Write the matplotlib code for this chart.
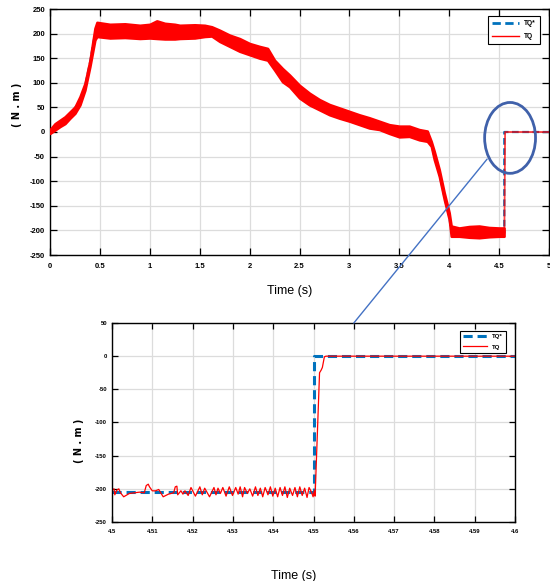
import matplotlib
matplotlib.use("Agg")
import matplotlib.pyplot as plt
from matplotlib.patches import Ellipse, ConnectionPatch

plt.rcParams["axes.unicode_minus"] = False

# full run: band of the measured torque (upper / lower edge of the ripple)
run_t = [0.00, 0.05, 0.10, 0.15, 0.20, 0.25, 0.30, 0.35, 0.40, 0.45,
         0.47, 0.60, 0.75, 0.90, 1.00, 1.07, 1.15, 1.25, 1.30, 1.45,
         1.55, 1.62, 1.70, 1.80, 1.90, 2.00, 2.10, 2.18, 2.25,
         2.33, 2.40, 2.50, 2.60, 2.70, 2.80, 2.90, 3.00, 3.10, 3.20,
         3.30, 3.40, 3.50, 3.60, 3.70, 3.78, 3.82, 3.85, 3.90, 3.95,
         4.00, 4.02, 4.10, 4.20, 4.30, 4.40, 4.50, 4.55]
run_hi = [5, 17, 24, 31, 41, 51, 72, 99, 146, 211,
          223, 219, 220, 217, 219, 226, 221, 219, 217, 218,
          217, 214, 207, 197, 190, 180, 174, 170, 146,
          129, 116, 95, 79, 66, 56, 49, 42, 35, 29,
          22, 15, 12, 12, 5, 2, -19, -39, -76, -123,
          -164, -191, -195, -192, -191, -194, -195, -195]
run_lo = [-3, 4, 11, 17, 28, 38, 55, 85, 133, 187,
          194, 191, 192, 190, 191, 190, 189, 189, 190, 191,
          194, 195, 184, 174, 164, 157, 150, 146, 126,
          102, 92, 69, 55, 45, 35, 28, 22, 15, 8,
          5, -3, -10, -9, -16, -19, -29, -56, -90, -137,
          -178, -212, -212, -214, -215, -213, -212, -212]
# torque after the load is removed
tail_t = [4.553, 4.56, 5.0]
tail_tq = [-205, 0, 0]
# reference torque TQ*
ref_t = [0.0, 0.10, 0.20, 0.30, 0.35, 0.40, 0.45, 0.47, 1.6, 2.18, 2.5, 3.0,
         3.5, 3.78, 3.82, 3.85, 3.90, 3.95, 4.00, 4.02, 4.552, 4.552, 5.0]
ref_tq = [0, 17, 35, 63, 92, 140, 199, 206, 204, 156, 82, 32,
          1, -9, -24, -48, -83, -130, -171, -202, -205, 0, 0]

# zoom on the step at 4.55 s
zoom_t = [4.5000, 4.5005, 4.5007, 4.5012, 4.5017, 4.5021, 4.5029, 4.5043, 4.5068, 4.5080,
          4.5085, 4.5090, 4.5093, 4.5100, 4.5108, 4.5116, 4.5127, 4.5140, 4.5153, 4.5157,
          4.5161, 4.5163, 4.5171, 4.5176, 4.5181, 4.5189,
          4.5196, 4.5207, 4.5218, 4.5224, 4.5230, 4.5242, 4.5253, 4.5258, 4.5263, 4.5269,
          4.5275, 4.5283, 4.5291, 4.5299, 4.5307, 4.5313, 4.5318, 4.5324, 4.5329, 4.5336,
          4.5342, 4.5349, 4.5356, 4.5362, 4.5368, 4.5374, 4.5380, 4.5387, 4.5393, 4.5399,
          4.5405, 4.5411, 4.5417, 4.5423, 4.5429, 4.5435, 4.5441, 4.5448, 4.5454, 4.5460,
          4.5466, 4.5472, 4.5478, 4.5484, 4.5489, 4.5495, 4.5499, 4.5502, 4.5504, 4.5515,
          4.5519, 4.5522, 4.5527, 4.5531, 4.6000]
zoom_tq = [-202, -200, -209, -202, -200, -206, -212, -207, -205, -206,
           -195, -193, -197, -203, -203, -201, -212, -208, -206, -197,
           -196, -209, -203, -208, -203, -210,
           -198, -211, -197, -209, -199, -212, -198, -209, -199, -207,
           -198, -211, -197, -210, -198, -208, -197, -212, -198, -207,
           -200, -211, -197, -210, -199, -212, -198, -209, -197, -211,
           -199, -212, -198, -210, -197, -213, -199, -210, -198, -212,
           -197, -210, -199, -213, -198, -205, -212, -203, -211, -25,
           -21, -17, -1, 0, 0]
zoom_ref_t = [4.5, 4.5501, 4.5501, 4.6]
zoom_ref_tq = [-205, -205, 0, 0]

BLUE = "#0072BD"
narrow = ["Liberation Sans Narrow", "Liberation Sans", "DejaVu Sans"]


def style_axes(ax, tick_size, tick_len):
    ax.grid(True, color="#dcdcdc", linewidth=0.9)
    ax.set_axisbelow(True)
    ax.tick_params(direction="in", top=True, right=True, length=tick_len,
                   width=0.9, labelsize=tick_size)
    for lab in ax.get_xticklabels() + ax.get_yticklabels():
        lab.set_family(narrow)
        lab.set_fontweight("bold")
    for sp in ax.spines.values():
        sp.set_linewidth(1.0)


fig = plt.figure(figsize=(5.5, 5.81), dpi=100)

# ---- top: whole run
ax1 = fig.add_axes([50 / 550, 1 - 255 / 581, 499 / 550, 246 / 581])
ax1.plot(ref_t, ref_tq, color=BLUE, lw=1.6, ls=(0, (3, 1.6)), label="TQ*", zorder=2)
ax1.fill_between(run_t, run_lo, run_hi, color="red", lw=1.8, edgecolor="red", zorder=3)
ax1.plot(tail_t, tail_tq, color="red", lw=1.3, alpha=0.75, zorder=3)
ax1.plot([], [], color="red", lw=1.0, label="TQ")
ax1.set_xlim(0, 5)
ax1.set_ylim(-250, 250)
ax1.set_xticks([0, 0.5, 1, 1.5, 2, 2.5, 3, 3.5, 4, 4.5, 5])
ax1.set_xticklabels(["0", "0.5", "1", "1.5", "2", "2.5", "3", "3.5", "4", "4.5", "5"])
ax1.set_yticks(range(-250, 251, 50))
style_axes(ax1, 5.5, 5)
ax1.tick_params(axis="x", pad=6)
ax1.set_xlabel("Time (s)", family=narrow, fontsize=9)
ax1.xaxis.set_label_coords(0.48, -0.12)
ax1.set_ylabel("( N . m )", fontsize=7, fontweight="bold")
ax1.yaxis.set_label_coords(-0.056, 0.61)
leg1 = ax1.legend(loc="upper right", bbox_to_anchor=(0.988, 0.984),
                  prop={"family": narrow, "weight": "bold", "size": 4.8},
                  fancybox=False, framealpha=1, edgecolor="black",
                  handlelength=4, borderpad=0.6, labelspacing=0.9)
leg1.get_frame().set_linewidth(0.8)
leg1.get_lines()[0].set_linewidth(2.0)

# circle around the step
ax1.add_patch(Ellipse((4.61, -12), 0.51, 144, fill=False, edgecolor="#4061aa",
                      lw=2.0, zorder=5, clip_on=False))

# ---- bottom: zoom on the step
ax2 = fig.add_axes([112 / 550, 1 - 522 / 581, 403 / 550, 199 / 581])
ax2.plot(zoom_ref_t, zoom_ref_tq, color=BLUE, lw=2.2, ls=(0, (3, 1.6)), label="TQ*")
ax2.plot(zoom_t, zoom_tq, color="red", lw=0.9, label="TQ")
ax2.set_xlim(4.5, 4.6)
ax2.set_ylim(-250, 50)
ax2.set_xticks([4.5 + 0.01 * i for i in range(11)])
ax2.set_xticklabels(["4.5", "4.51", "4.52", "4.53", "4.54", "4.55",
                     "4.56", "4.57", "4.58", "4.59", "4.6"])
ax2.set_yticks(range(-250, 51, 50))
style_axes(ax2, 4.2, 4)
ax2.tick_params(axis="x", pad=5)
ax2.set_xlabel("Time (s)", family=narrow, fontsize=9)
ax2.xaxis.set_label_coords(0.45, -0.24)
ax2.set_ylabel("( N . m )", fontsize=7, fontweight="bold")
ax2.yaxis.set_label_coords(-0.07, 0.41)
leg2 = ax2.legend(loc="upper right", bbox_to_anchor=(0.985, 0.975),
                  prop={"family": narrow, "weight": "bold", "size": 4.4},
                  fancybox=False, framealpha=1, edgecolor="black",
                  handlelength=4, borderpad=0.5, labelspacing=0.8)
leg2.get_frame().set_linewidth(0.8)

# pointer from the circle down to the zoomed axes
con = ConnectionPatch(xyA=(4.38, -55), coordsA=ax1.transData,
                      xyB=(4.56, 50), coordsB=ax2.transData,
                      color="#4472c4", lw=1.0, zorder=10)
fig.add_artist(con)

fig.savefig("out.png", dpi=100)
